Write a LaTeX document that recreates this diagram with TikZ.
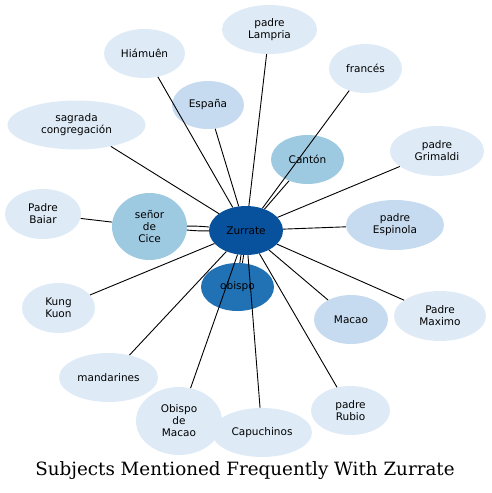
\documentclass[tikz,border=0pt]{standalone}
\usepackage{fontspec}
\usepackage{tikz}
\usetikzlibrary{shapes.geometric}
\newfontfamily\nodefont{DejaVu Sans}
\newfontfamily\titlefont{DejaVu Serif}
\definecolor{blue0}{HTML}{DEEBF7}
\definecolor{blue1}{HTML}{C6DBEF}
\definecolor{blue2}{HTML}{9ECAE1}
\definecolor{blue3}{HTML}{2171B5}
\definecolor{blue4}{HTML}{08519C}

\begin{document}
\begin{tikzpicture}[
  x=1pt, y=-1pt,
  subject/.style={ellipse, fill=blue0, minimum width=74pt, minimum height=49pt,
                  inner sep=0pt, align=center, font=\nodefont\fontsize{10.5}{12}\selectfont},
  edge/.style={line width=0.9pt, black},
  title/.style={font=\titlefont\fontsize{18.3}{21}\selectfont},
]
\useasboundingbox (0,0) rectangle (491,493);

\node[title] (title) at (245, 471) {Subjects Mentioned Frequently With Zurrate};

\node[subject, fill=blue4] (zur) at (246.0, 230.5) {Zurrate};
\node[subject, fill=blue3, minimum width=73pt, minimum height=48pt] (obispo) at (237.5, 287.0) {obispo};
\node[subject, fill=blue2, minimum width=75pt, minimum height=67pt] (cice) at (149.5, 226.5) {señor\\de\\Cice};
\node[subject, minimum width=76pt, minimum height=50pt] (baiar) at (43.0, 214.0) {Padre\\Baiar};
\node[subject, minimum width=138pt] (sagrada) at (76.5, 125.0) {sagrada\\congregación};
\node[subject, minimum width=81pt] (hiamuen) at (144.5, 53.5) {Hiámuên};
\node[subject, fill=blue1, minimum width=72pt, minimum height=48pt] (espana) at (208.0, 105.0) {España};
\node[subject, minimum width=95pt] (lampria) at (269.5, 29.5) {padre\\Lampria};
\node[subject, minimum width=73pt] (frances) at (365.5, 68.5) {francés};
\node[subject, fill=blue2, minimum width=73pt] (canton) at (307.5, 159.5) {Cantón};
\node[subject, minimum width=94pt, minimum height=50pt] (grimaldi) at (437.0, 151.0) {padre\\Grimaldi};
\node[subject, fill=blue1, minimum width=98pt, minimum height=50pt] (espinola) at (395.0, 225.0) {padre\\Espinola};
\node[subject, minimum width=92pt, minimum height=50pt] (maximo) at (440.0, 316.0) {Padre\\Maximo};
\node[subject, fill=blue1] (macao) at (351.0, 319.5) {Macao};
\node[subject, minimum width=79pt] (rubio) at (350.5, 410.5) {padre\\Rubio};
\node[subject, minimum width=100pt] (capuchinos) at (262.0, 432.5) {Capuchinos};
\node[subject, minimum width=86pt, minimum height=68pt] (obmacao) at (179.0, 421.0) {Obispo\\de\\Macao};
\node[subject, minimum width=99pt] (mandarines) at (108.5, 377.5) {mandarines};
\node[subject, minimum width=73pt, minimum height=50pt] (kung) at (58.5, 308.0) {Kung\\Kuon};

\draw[edge] (zur) to[bend left=3] (cice);
\draw[edge] (zur) to[bend right=3] (cice);
\draw[edge] (zur) to[bend left=3] (obispo);
\draw[edge] (zur) to[bend right=3] (obispo);
\draw[edge] (cice) -- (baiar);
\draw[edge] (zur) -- (sagrada);
\draw[edge] (zur) -- (hiamuen);
\draw[edge] (zur) -- (espana);
\draw[edge] (zur) -- (lampria);
\draw[edge] (zur) -- (frances);
\draw[edge] (zur) -- (canton);
\draw[edge] (zur) -- (grimaldi);
\draw[edge] (zur) -- (espinola);
\draw[edge] (zur) -- (maximo);
\draw[edge] (zur) -- (macao);
\draw[edge] (zur) -- (rubio);
\draw[edge] (zur) -- (capuchinos);
\draw[edge] (zur) -- (obmacao);
\draw[edge] (zur) -- (mandarines);
\draw[edge] (zur) -- (kung);

\end{tikzpicture}
\end{document}
